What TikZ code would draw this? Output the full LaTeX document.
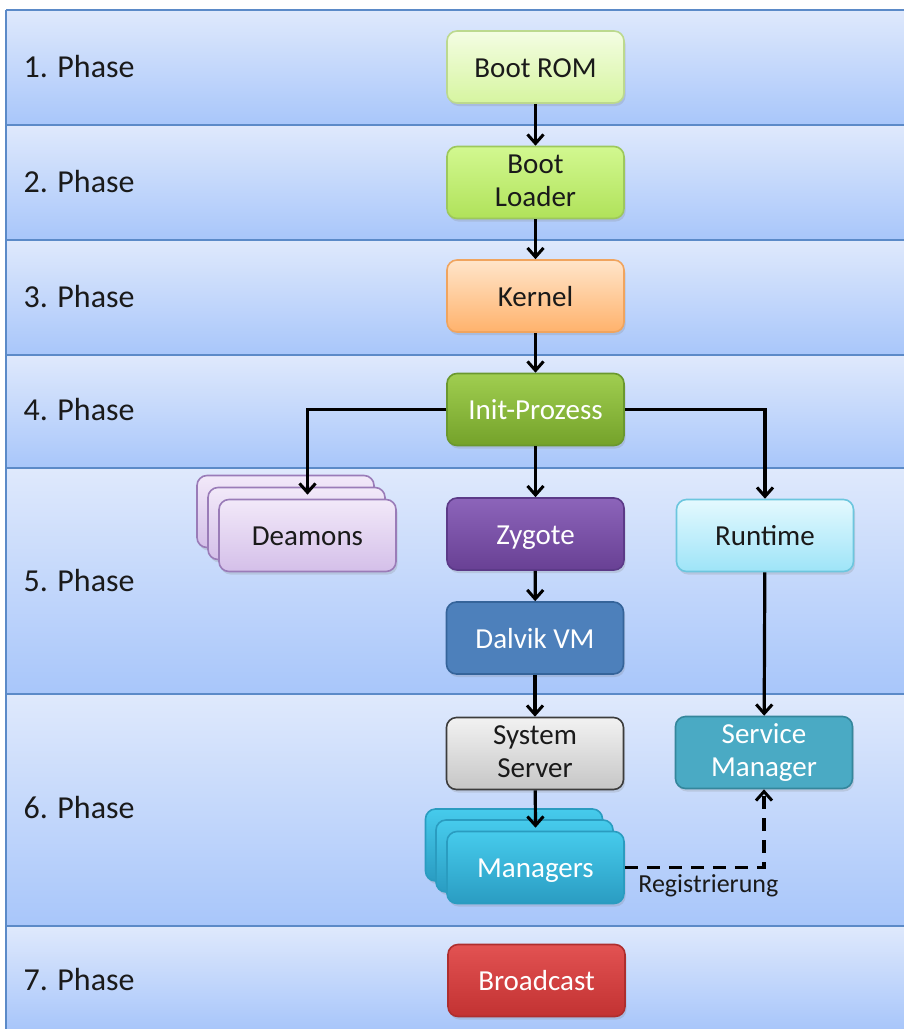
\documentclass[tikz,border=0pt]{standalone}
\usepackage{fontspec}
\setmainfont{Carlito}
\usetikzlibrary{arrows.meta,shadows}

% band colours
\definecolor{bandtop}{HTML}{DFE9FC}
\definecolor{bandbot}{HTML}{A8C6FA}
\definecolor{bandline}{HTML}{5B8AC8}
\definecolor{txt}{HTML}{1A1A1A}
% box colours: border, top, bottom
\definecolor{romD}{HTML}{BCD98E}\definecolor{romT}{HTML}{F4FDE3}\definecolor{romB}{HTML}{D6F5A0}
\definecolor{ldrD}{HTML}{9DC85C}\definecolor{ldrT}{HTML}{D2F890}\definecolor{ldrB}{HTML}{B0E25A}
\definecolor{kerD}{HTML}{F0A45E}\definecolor{kerT}{HTML}{FFE5CA}\definecolor{kerB}{HTML}{FFB26C}
\definecolor{iniD}{HTML}{6A982E}\definecolor{iniT}{HTML}{A0CE50}\definecolor{iniB}{HTML}{74A22A}
\definecolor{dmD}{HTML}{9A7CB8}\definecolor{dmT}{HTML}{F2E9F9}\definecolor{dmB}{HTML}{D4BFE9}
\definecolor{rtD}{HTML}{6CC6DE}\definecolor{rtT}{HTML}{E4F9FE}\definecolor{rtB}{HTML}{9EE4F8}
\definecolor{smD}{HTML}{35869C}\definecolor{smF}{HTML}{4AAAC4}
\definecolor{zyD}{HTML}{5C3A88}\definecolor{zyT}{HTML}{8C64BA}\definecolor{zyB}{HTML}{684094}
\definecolor{dvD}{HTML}{35649A}\definecolor{dvF}{HTML}{4D80BB}
\definecolor{ssD}{HTML}{3C3C3C}\definecolor{ssT}{HTML}{F2F2F2}\definecolor{ssB}{HTML}{C6C6C6}
\definecolor{mgD}{HTML}{2A9CC0}\definecolor{mgT}{HTML}{46CBEC}\definecolor{mgB}{HTML}{2A9CC2}
\definecolor{bcD}{HTML}{AE2E2E}\definecolor{bcT}{HTML}{E25252}\definecolor{bcB}{HTML}{C23232}

% fixed height and depth so every box centres its text alike
\newcommand\boxstrut{\rule[-0.2em]{0pt}{1.1em}}
% two-line boxes: height measured from the baseline of the last line
\newcommand\tallstrut{\rule[-0.2em]{0pt}{2.05em}}

\tikzset{
  box/.style={rounded corners=10pt, minimum width=177pt, minimum height=72pt,
    inner sep=0pt, line width=1.6pt, align=center, text=txt,
    font=\fontsize{29}{33}\selectfont,
    execute at begin node=\boxstrut, execute at end node=\boxstrut,
    drop shadow={shadow xshift=1.5pt, shadow yshift=-3pt, opacity=0.22}},
  twoline/.style={execute at end node=\tallstrut},
  grad/.style={draw=#1D, top color=#1T, bottom color=#1B},
  flat/.style={draw=#1D, fill=#1F},
  phase/.style={anchor=west, text=txt, font=\fontsize{32}{34}\selectfont},
  flow/.style={line width=3.2pt, -{Straight Barb[length=9pt,width=16pt,line width=3pt]}},
  regflow/.style={flow, dash pattern=on 13pt off 9pt},
}

\begin{document}
\begin{tikzpicture}[x=1pt, y=-1pt]
\useasboundingbox (0,0) rectangle (904,1029);

% phase bands
\foreach \a/\b in {10/125, 125/240, 240/355, 355/468, 468/694, 694/926, 926/1029}{
  \shade[top color=bandtop, bottom color=bandbot] (6,\a) rectangle (904,\b);
}
\foreach \b in {10, 125, 240, 355, 468, 694, 926}{
  \draw[bandline, line width=1.8pt] (6,\b) -- (904,\b);
}
\draw[bandline, line width=1.8pt] (6,10) -- (6,1029);

% phase labels
\node[phase] (p1) at (20,67)  {1. Phase};
\node[phase] (p2) at (20,182) {2. Phase};
\node[phase] (p3) at (20,297) {3. Phase};
\node[phase] (p4) at (20,410) {4. Phase};
\node[phase] (p5) at (20,581) {5. Phase};
\node[phase] (p6) at (20,808) {6. Phase};
\node[phase] (p7) at (20,980) {7. Phase};

% boot chain
\node[box, grad=rom] (rom) at (535.5,67) {Boot ROM};
\node[box, twoline, grad=ldr] (loader) at (535.5,182.5) {Boot\\Loader};
\node[box, grad=ker] (kernel) at (535.5,296) {Kernel};
\node[box, grad=ini, text=white] (init) at (535.5,409.5) {Init-Prozess};

% daemons (stacked)
\node[box, grad=dm] (dm3) at (285.5,511.5) {};
\node[box, grad=dm] (dm2) at (296.5,523.5) {};
\node[box, grad=dm] (dm) at (307.5,535.5) {Deamons};

% runtime branch
\node[box, grad=rt] (rt) at (765,535.5) {Runtime};
\node[box, twoline, flat=sm, text=white] (sm) at (764,752.5) {Service\\Manager};

% zygote branch
\node[box, grad=zy, text=white] (zy) at (535.5,534) {Zygote};
\node[box, flat=dv, text=white] (dv) at (535,638) {Dalvik VM};
\node[box, twoline, grad=ss] (ss) at (535,753.5) {System\\Server};

% managers (stacked)
\node[box, grad=mg] (mg3) at (514,845) {};
\node[box, grad=mg] (mg2) at (524.5,856) {};
\node[box, grad=mg, text=white] (mg) at (535.5,867.5) {Managers};

% broadcast
\node[box, grad=bc, text=white] (bc) at (536.5,980.5) {Broadcast};

% connectors
\draw[flow] (rom) -- (loader);
\draw[flow] (loader) -- (kernel);
\draw[flow] (kernel) -- (init);
\draw[flow] (init) -- (zy);
\draw[flow] (init.west) -| ([yshift=4pt]dm.north);
\draw[flow] (init.east) -| (rt.north);
\draw[flow] (zy) -- (dv);
\draw[flow] (dv) -- (ss);
\draw[flow] (ss) -- ([yshift=3pt]mg.north);
\draw[flow] (rt) -- (sm);
\draw[regflow] (mg.east) -| (sm.south)
  node[pos=0.3, below=2pt, text=txt, font=\fontsize{26}{28}\selectfont] (reg) {Registrierung};
\end{tikzpicture}
\end{document}
